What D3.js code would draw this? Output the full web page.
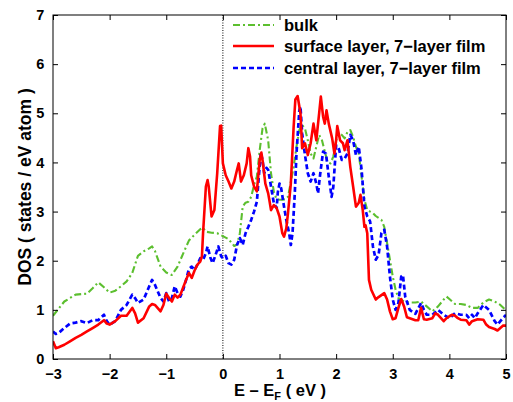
<!DOCTYPE html>
<html><head><meta charset="utf-8">
<script src="https://cdn.jsdelivr.net/npm/d3@7"></script>
<style>body{margin:0;background:#fff}svg{display:block}text{font-family:"Liberation Sans",Arial,sans-serif;font-weight:bold}</style>
</head><body><svg id="c" width="513" height="402"></svg>
<script>
const xTicks=[-3,-2,-1,0,1,2,3,4,5];
const yTicks=[0,1,2,3,4,5,6,7];
const seriesNames=["bulk","surface layer, 7\u2212layer film","central layer, 7\u2212layer film"];
const bulkE=[-3,-2.8,-2.6,-2.4,-2.3,-2.2,-2.1,-2,-1.9,-1.8,-1.7,-1.6,-1.5,-1.4,-1.3,-1.25,-1.2,-1.1,-1,-0.9,-0.8,-0.7,-0.6,-0.5,-0.4,-0.35,-0.3,-0.2,-0.1,0,0.1,0.2,0.25,0.3,0.35,0.4,0.45,0.5,0.55,0.6,0.65,0.7,0.74,0.8,0.85,0.9,0.95,1,1.05,1.1,1.15,1.2,1.25,1.3,1.35,1.4,1.45,1.5,1.55,1.6,1.65,1.7,1.75,1.8,1.85,1.9,1.95,2,2.05,2.1,2.15,2.2,2.25,2.3,2.35,2.4,2.45,2.5,2.55,2.6,2.65,2.7,2.8,2.85,2.9,2.95,3,3.05,3.1,3.2,3.3,3.4,3.5,3.6,3.7,3.8,3.9,3.95,4,4.1,4.2,4.3,4.4,4.5,4.6,4.7,4.8,4.9,5];
const bulkDOS=[0.88,1.17,1.31,1.33,1.44,1.56,1.46,1.35,1.39,1.48,1.58,1.75,2.1,2.19,2.25,2.29,2.2,1.88,1.76,1.71,1.88,2.15,2.41,2.53,2.64,2.67,2.59,2.57,2.56,2.5,2.44,2.3,2.33,2.56,3.1,3.18,3.2,3.3,3.54,3.71,4.25,4.69,4.79,4.45,3.78,3.4,3.25,3.24,3.24,3.25,3.3,3.6,3.91,4.32,4.66,4.76,4.69,4.45,4.18,4.08,4.32,4.56,4.45,4.22,4.01,3.98,4.12,4.45,4.59,4.56,4.49,4.62,4.66,4.52,4.32,4.18,3.71,3.24,3.03,3.0,2.97,2.91,2.83,2.69,2.36,2.02,1.68,1.41,1.24,1.17,1.15,1.15,1.17,1.07,0.97,1.07,1.21,1.27,1.22,1.12,1.12,1.1,1.04,1.04,1.15,1.21,1.17,1.1,0.99];
const surfE=[-3,-2.95,-2.9,-2.8,-2.7,-2.6,-2.5,-2.4,-2.3,-2.2,-2.1,-2.05,-2,-1.9,-1.8,-1.7,-1.6,-1.55,-1.5,-1.4,-1.3,-1.25,-1.2,-1.1,-1.05,-1,-0.95,-0.9,-0.85,-0.8,-0.75,-0.7,-0.65,-0.6,-0.55,-0.5,-0.45,-0.4,-0.37,-0.35,-0.3,-0.27,-0.25,-0.2,-0.15,-0.1,-0.05,-0.03,0,0.05,0.1,0.15,0.2,0.25,0.28,0.32,0.37,0.42,0.45,0.48,0.5,0.55,0.6,0.65,0.68,0.7,0.75,0.8,0.82,0.85,0.9,0.95,1,1.05,1.08,1.12,1.15,1.2,1.25,1.28,1.32,1.37,1.4,1.45,1.5,1.55,1.6,1.65,1.7,1.73,1.77,1.8,1.83,1.87,1.93,1.97,2,2.02,2.07,2.12,2.15,2.2,2.25,2.3,2.35,2.4,2.43,2.47,2.5,2.52,2.55,2.58,2.62,2.7,2.75,2.85,2.9,2.95,3,3.05,3.1,3.15,3.2,3.25,3.3,3.4,3.45,3.5,3.55,3.6,3.7,3.75,3.8,3.9,3.95,4,4.05,4.1,4.15,4.2,4.3,4.35,4.4,4.5,4.6,4.65,4.7,4.8,4.85,4.9,4.95,5];
const surfDOS=[0.36,0.22,0.24,0.29,0.36,0.43,0.49,0.56,0.63,0.7,0.79,0.72,0.7,0.77,0.88,0.88,1.04,0.93,0.74,0.83,1.07,1.12,1.1,0.97,1.1,1.33,1.24,1.17,1.31,1.25,1.31,1.46,1.61,1.75,1.65,1.8,1.92,1.98,2.09,2.56,3.51,3.64,3.51,2.9,3.03,3.78,4.74,4.75,3.98,3.74,3.61,3.47,3.61,3.85,3.98,3.61,3.74,3.98,4.29,4.12,3.74,3.51,3.41,4.05,4.2,4.05,3.57,3.37,3.24,3.03,3.13,3.07,2.9,2.56,2.49,2.66,2.97,3.57,4.73,5.28,5.35,5.0,4.29,4.39,4.15,4.39,4.79,4.45,5.0,5.34,4.93,4.79,5.06,4.79,4.49,4.18,4.45,4.74,4.45,4.39,4.25,4.45,3.91,3.51,3.1,3.18,3.34,3.03,2.69,2.72,2.56,1.61,1.41,1.21,1.26,1.34,1.21,0.97,0.81,0.83,1.04,1.22,1.07,0.85,0.83,0.79,0.79,1.04,0.81,0.8,0.83,0.93,0.9,0.77,0.83,0.87,0.9,0.88,0.83,0.8,0.79,0.7,0.77,0.81,0.8,0.7,0.65,0.61,0.58,0.63,0.68,0.68];
const centE=[-3,-2.95,-2.9,-2.8,-2.7,-2.6,-2.5,-2.4,-2.3,-2.2,-2.1,-2.05,-2,-1.9,-1.8,-1.7,-1.6,-1.55,-1.5,-1.4,-1.3,-1.25,-1.2,-1.1,-1.05,-1,-0.95,-0.9,-0.85,-0.8,-0.75,-0.7,-0.65,-0.6,-0.55,-0.5,-0.45,-0.4,-0.35,-0.3,-0.27,-0.22,-0.18,-0.12,-0.08,-0.03,0,0.05,0.1,0.15,0.2,0.25,0.3,0.35,0.4,0.45,0.5,0.55,0.6,0.63,0.67,0.7,0.73,0.77,0.8,0.85,0.9,0.95,0.97,1,1.03,1.08,1.12,1.17,1.2,1.23,1.27,1.3,1.35,1.37,1.4,1.45,1.5,1.55,1.6,1.65,1.68,1.72,1.77,1.82,1.87,1.92,1.95,2,2.05,2.1,2.15,2.2,2.25,2.3,2.35,2.4,2.45,2.5,2.55,2.6,2.65,2.7,2.75,2.8,2.85,2.9,2.95,3,3.05,3.1,3.15,3.18,3.22,3.3,3.4,3.5,3.55,3.6,3.7,3.8,3.9,4,4.1,4.2,4.3,4.35,4.4,4.45,4.5,4.6,4.7,4.8,4.85,4.9,5];
const centDOS=[0.56,0.51,0.53,0.63,0.72,0.74,0.77,0.73,0.79,0.79,0.9,0.77,0.7,0.77,1.0,1.1,1.31,1.24,1.14,1.21,1.48,1.61,1.51,1.24,1.17,1.34,1.17,1.24,1.48,1.34,1.27,1.41,1.61,1.83,1.88,1.81,1.92,2.05,2.02,2.15,2.29,2.06,1.95,2.15,2.29,2.09,2.05,2.1,1.95,1.92,2.02,2.32,2.46,2.32,2.56,2.69,2.83,3.0,3.2,3.64,4.2,4.05,3.78,3.89,3.85,3.51,3.17,3.07,3.39,3.57,3.47,3.1,2.83,2.56,2.32,2.56,3.37,4.18,5.06,5.14,4.59,4.15,3.78,3.61,3.78,3.57,3.37,3.78,4.22,4.18,3.71,3.3,3.5,4.35,4.27,4.05,4.08,4.18,4.56,4.45,4.15,4.32,3.85,3.1,2.9,2.8,2.29,2.02,2.12,2.56,2.63,2.29,1.68,1.21,1.0,1.14,1.68,1.71,1.27,1.0,0.92,1.14,1.0,0.9,0.9,1.0,0.9,0.83,0.93,0.9,0.9,0.83,0.9,0.83,0.93,1.1,1.0,0.77,0.7,0.77,0.9];

const svg=d3.select("#c");
const L=53,R=506,T=15,B=359;
const x=d3.scaleLinear().domain([-3,5]).range([L,R]);
const y=d3.scaleLinear().domain([0,7]).range([B,T]);
const g=svg.append("g");
g.append("clipPath").attr("id","clip").append("rect").attr("x",L).attr("y",T).attr("width",R-L).attr("height",B-T);

g.append("line").attr("x1",x(0)).attr("x2",x(0)).attr("y1",T).attr("y2",B).attr("stroke","#000").attr("stroke-width",1).attr("stroke-dasharray","1,1.5");

const line=d3.line().x(d=>x(d[0])).y(d=>y(d[1]));
const zip=(a,b)=>a.map((v,i)=>[v,b[i]]);
const styles=[
 {data:zip(bulkE,bulkDOS),color:"#5cbf2f",w:2.1,dash:"7,3,2,3"},
 {data:zip(surfE,surfDOS),color:"#ff0000",w:2.6,dash:null},
 {data:zip(centE,centDOS),color:"#0000ff",w:2.7,dash:"5,3"}];
const order=[0,2,1];
const plot=g.append("g").attr("clip-path","url(#clip)");
order.forEach(i=>{const s=styles[i];
 plot.append("path").attr("d",line(s.data)).attr("fill","none").attr("stroke",s.color).attr("stroke-width",s.w).attr("stroke-linejoin","round").attr("stroke-dasharray",s.dash);
});

g.append("rect").attr("x",L).attr("y",T).attr("width",R-L).attr("height",B-T).attr("fill","none").attr("stroke","#000").attr("stroke-width",1);

const xa=svg.append("g").attr("transform",`translate(0,${B})`).call(d3.axisBottom(x).tickValues(xTicks).tickSize(-5).tickSizeOuter(0).tickFormat(d=>d<0?"\u2212"+Math.abs(d):d));
const xt=svg.append("g").attr("transform",`translate(0,${T})`).call(d3.axisTop(x).tickValues(xTicks).tickSize(-5).tickSizeOuter(0).tickFormat(""));
const ya=svg.append("g").attr("transform",`translate(${L},0)`).call(d3.axisLeft(y).tickValues(yTicks).tickSize(-5).tickSizeOuter(0).tickFormat(d3.format("d")));
const yr=svg.append("g").attr("transform",`translate(${R},0)`).call(d3.axisRight(y).tickValues(yTicks).tickSize(-5).tickSizeOuter(0).tickFormat(""));
[xa,xt,ya,yr].forEach(a=>{a.select(".domain").remove();a.selectAll("line").attr("stroke","#000");});
xa.selectAll("text").attr("font-size",14.5).attr("font-weight","bold").attr("fill","#000").attr("dy","1.2em");
ya.selectAll("text").attr("font-size",14.5).attr("font-weight","bold").attr("fill","#000").attr("dx","-0.4em");

const xl=svg.append("text").attr("x",280).attr("y",396).attr("text-anchor","middle").attr("font-size",16.5).attr("fill","#000");
xl.append("tspan").text("E \u2013 E");
xl.append("tspan").attr("font-size",11).attr("dy",3.5).text("F");
xl.append("tspan").attr("dy",-3.5).text(" ( eV )");
svg.append("text").attr("transform","translate(31,187) rotate(-90)").attr("text-anchor","middle").attr("font-size",17.5).attr("fill","#000").text("DOS ( states / eV atom )");

const leg=svg.append("g");
const ly=[25,46,68];
[0,1,2].forEach(i=>{const s=styles[i];
 leg.append("line").attr("x1",233).attr("x2",274).attr("y1",ly[i]).attr("y2",ly[i]).attr("stroke",s.color).attr("stroke-width",s.w).attr("stroke-dasharray",s.dash);
 leg.append("text").attr("x",284).attr("y",ly[i]+6).attr("font-size",16.5).attr("fill","#000").text(seriesNames[i]);
});
</script></body></html>
